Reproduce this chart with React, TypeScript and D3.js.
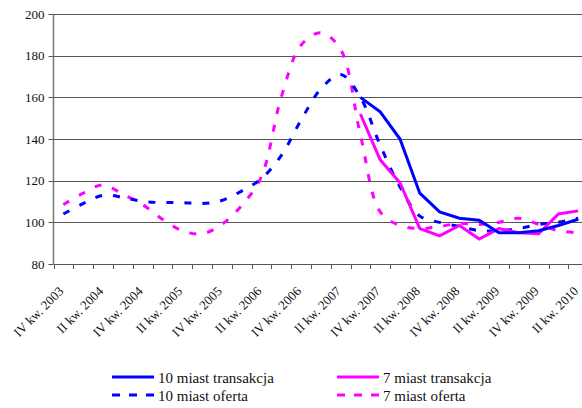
import React, { useEffect, useRef } from "react";
import * as d3 from "d3";

// quarters from IV 2003 to II 2010
const quarters = [
  "IV kw. 2003", "I kw. 2004", "II kw. 2004", "III kw. 2004", "IV kw. 2004",
  "I kw. 2005", "II kw. 2005", "III kw. 2005", "IV kw. 2005",
  "I kw. 2006", "II kw. 2006", "III kw. 2006", "IV kw. 2006",
  "I kw. 2007", "II kw. 2007", "III kw. 2007", "IV kw. 2007",
  "I kw. 2008", "II kw. 2008", "III kw. 2008", "IV kw. 2008",
  "I kw. 2009", "II kw. 2009", "III kw. 2009", "IV kw. 2009",
  "I kw. 2010", "II kw. 2010",
];

const yTicks = [80, 100, 120, 140, 160, 180, 200];

const trans10: (number | null)[] = [
  null, null, null, null, null, null, null, null, null, null, null, null, null, null, null,
  160, 153, 140, 114, 105, 102, 101, 95, 95, 96, 98.5, 101.5,
];
const trans7: (number | null)[] = [
  null, null, null, null, null, null, null, null, null, null, null, null, null, null, null,
  152, 130, 119, 97, 93.5, 98.5, 92, 97, 95, 94.5, 104, 105.5,
];
const offer10 = [
  104, 109, 113, 112, 110, 109.5, 109.5, 109, 110.5, 115, 121, 132, 149, 164, 171,
  160, 137, 117, 103, 100, 98, 96, 96, 97, 99, 100, 102,
];
const offer7 = [
  108.5, 114, 118, 113.5, 108.5, 101.5, 96, 94.5, 99, 108, 122, 160, 185, 191, 183,
  142, 105, 98.5, 97, 98, 99.5, 99, 100, 102, 99, 96, 95,
];

const series = [
  { name: "10 miast transakcja", values: trans10, color: "#0000ff", dash: null, smooth: false },
  { name: "7 miast transakcja", values: trans7, color: "#ff00ff", dash: null, smooth: false },
  { name: "10 miast oferta", values: offer10, color: "#0000ff", dash: "7,11", smooth: true },
  { name: "7 miast oferta", values: offer7, color: "#ff00ff", dash: "7,11", smooth: true },
];

const App = () => {
  const ref = useRef(null);

  useEffect(() => {
    const svg = d3.select(ref.current);
    svg.selectAll("*").remove();

    const left = 53.5;
    const step = 19.8;
    const x = d3
      .scaleBand()
      .domain(quarters)
      .range([left, left + step * quarters.length]);
    const y = d3.scaleLinear().domain([80, 200]).range([264, 14]);
    const cx = (i: number) => (x(quarters[i]) as number) + x.bandwidth() / 2;

    // gridlines
    svg
      .append("g")
      .selectAll("line")
      .data(yTicks.slice(1))
      .enter()
      .append("line")
      .attr("x1", left)
      .attr("x2", 582)
      .attr("y1", (d) => Math.round(y(d)) + 0.5)
      .attr("y2", (d) => Math.round(y(d)) + 0.5)
      .attr("stroke", "#555")
      .attr("stroke-width", 1.2);

    // y axis
    const yAxis = svg.append("g");
    yAxis
      .append("line")
      .attr("x1", left)
      .attr("x2", left)
      .attr("y1", y(200))
      .attr("y2", y(80))
      .attr("stroke", "#777")
      .attr("stroke-width", 1.5);
    yAxis
      .selectAll(".yt")
      .data(yTicks)
      .enter()
      .append("line")
      .attr("x1", left - 5)
      .attr("x2", left)
      .attr("y1", (d) => Math.round(y(d)) + 0.5)
      .attr("y2", (d) => Math.round(y(d)) + 0.5)
      .attr("stroke", "#555");
    yAxis
      .selectAll("text")
      .data(yTicks)
      .enter()
      .append("text")
      .attr("x", left - 9)
      .attr("y", (d) => y(d))
      .attr("dy", "0.35em")
      .attr("text-anchor", "end")
      .attr("font-family", "Liberation Serif, serif")
      .attr("font-size", 13)
      .attr("fill", "#111")
      .text((d) => d);

    // x axis
    const xAxis = svg.append("g");
    xAxis
      .append("line")
      .attr("x1", left)
      .attr("x2", 582)
      .attr("y1", y(80) + 0.5)
      .attr("y2", y(80) + 0.5)
      .attr("stroke", "#555")
      .attr("stroke-width", 1.2);
    xAxis
      .selectAll(".xt")
      .data(d3.range(quarters.length + 1))
      .enter()
      .append("line")
      .attr("x1", (i) => Math.round(left + i * step) + 0.5)
      .attr("x2", (i) => Math.round(left + i * step) + 0.5)
      .attr("y1", y(80))
      .attr("y2", y(80) + 5)
      .attr("stroke", "#555");
    xAxis
      .selectAll("text")
      .data(quarters.map((q, i) => ({ q, i })).filter((d) => d.i % 2 === 0))
      .enter()
      .append("text")
      .attr("transform", (d) => `translate(${cx(d.i) + 1},${y(80) + 28}) rotate(-45)`)
      .attr("text-anchor", "end")
      .attr("font-family", "Liberation Serif, serif")
      .attr("font-size", 13)
      .attr("fill", "#111")
      .text((d) => d.q);

    // lines
    const plot = svg.append("g");
    series
      .slice()
      .reverse()
      .forEach((s) => {
        const line = d3
          .line<number | null>()
          .defined((d) => d !== null)
          .x((_, i) => cx(i))
          .y((d) => y(d as number))
          .curve(s.smooth ? d3.curveCatmullRom : d3.curveLinear);
        plot
          .append("path")
          .attr("d", line(s.values))
          .attr("fill", "none")
          .attr("stroke", s.color)
          .attr("stroke-width", 3)
          .attr("stroke-dasharray", s.dash);
      });

    // legend
    const legend = svg.append("g");
    const items = [
      { s: series[0], lx: 112, ly: 377 },
      { s: series[1], lx: 337, ly: 377 },
      { s: series[2], lx: 112, ly: 395 },
      { s: series[3], lx: 337, ly: 395 },
    ];
    items.forEach(({ s, lx, ly }) => {
      legend
        .append("line")
        .attr("x1", lx)
        .attr("x2", lx + 42)
        .attr("y1", ly)
        .attr("y2", ly)
        .attr("stroke", s.color)
        .attr("stroke-width", 3)
        .attr("stroke-dasharray", s.dash ? "8,9" : null);
      legend
        .append("text")
        .attr("x", lx + 46)
        .attr("y", ly + 6)
        .attr("font-family", "Liberation Serif, serif")
        .attr("font-size", 15)
        .attr("fill", "#111")
        .text(s.name);
    });
  }, []);

  return (
    <svg
      ref={ref}
      width={582}
      height={408}
      style={{ position: "absolute", left: 0, top: 0, background: "#fff" }}
    />
  );
};

export default App;
